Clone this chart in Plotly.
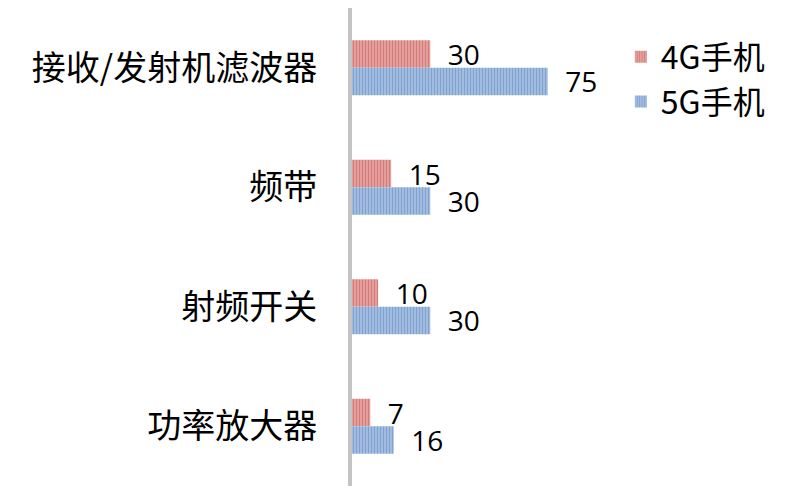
import plotly.graph_objects as go

categories = ["接收/发射机滤波器", "频带", "射频开关", "功率放大器"]
series_names = ["4G手机", "5G手机"]
values_4g = [30, 15, 10, 7]
values_5g = [75, 30, 30, 16]

fig = go.Figure()
styles = [("#C0504D", "#E9A9A7"), ("#4F81BD", "#AEC5E5")]
for name, vals, (fg, bg) in zip(series_names, [values_4g, values_5g], styles):
    fig.add_trace(go.Bar(
        y=categories, x=vals, name=name, orientation="h",
        marker=dict(color=bg, line=dict(width=0),
                    pattern=dict(shape="|", fgcolor=fg, bgcolor=bg, size=3, solidity=0.5, fillmode="overlay")),
        text=vals, texttemplate="  %{x}", textposition="outside", cliponaxis=False,
        constraintext="none",
        textfont=dict(size=28, color="black", family="Open Sans"),
    ))

fig.update_layout(
    width=800, height=498,
    margin=dict(l=352, r=187, t=8, b=12, autoexpand=False),
    paper_bgcolor="white", plot_bgcolor="white",
    barmode="group", bargap=0.54, bargroupgap=0,
    showlegend=True,
    legend=dict(x=1.03, y=0.955, xanchor="left", yanchor="top",
                font=dict(size=32, color="black", family="Noto Sans CJK SC"),
                itemsizing="constant", tracegroupgap=0, bgcolor="rgba(0,0,0,0)"),
    xaxis=dict(range=[0, 100], showgrid=False, zeroline=False, showticklabels=False, showline=False,
               automargin=False),
    yaxis=dict(autorange="reversed", showgrid=False, showline=True, linecolor="#C4C4C4", linewidth=4,
               ticks="", ticklabelstandoff=24, automargin=False,
               tickfont=dict(size=34, color="black", family="Noto Sans CJK SC")),
)

fig.write_html("out.html", config={"displayModeBar": False},
               post_script="document.body.style.margin='0px';")
